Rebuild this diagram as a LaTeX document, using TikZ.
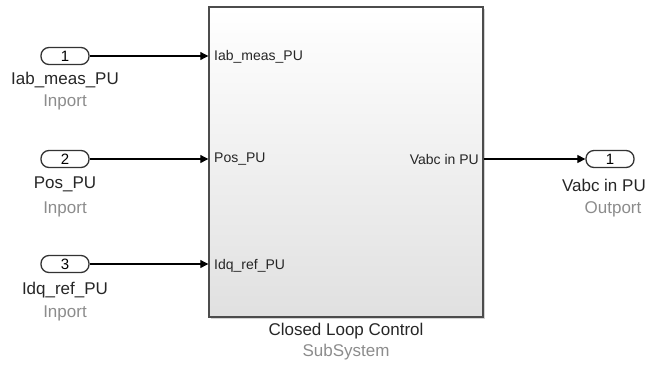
\documentclass[tikz,border=0pt]{standalone}
\usepackage{fontspec}
\setmainfont{Liberation Sans}
\usetikzlibrary{arrows.meta, positioning, shadows}

\begin{document}
\begin{tikzpicture}[x=1pt, y=-1pt,
    port/.style={draw=black!80, line width=1.3pt, rounded corners=8pt, minimum width=48pt,
                 minimum height=17pt, inner sep=0pt, font=\fontsize{15}{15}\selectfont},
    title/.style={font=\fontsize{17}{17}\selectfont, text=black!85, inner sep=0pt},
    kind/.style={font=\fontsize{17}{17}\selectfont, text=black!45, inner sep=0pt},
    pin/.style={font=\fontsize{14}{14}\selectfont, text=black!85, inner sep=0pt},
    wire/.style={line width=1.1pt, -{Triangle[length=8pt,width=8pt]}}]

  \useasboundingbox (0,0) rectangle (647,365);

  % subsystem block
  \node (sub) at (346,162) [draw=black!70, line width=1.4pt, minimum width=274pt, minimum height=310pt,
        top color=white, bottom color=black!12,
        drop shadow={shadow xshift=2pt, shadow yshift=-2pt, opacity=0.35}] {};
  \node[title] (subtitle) at (346,331) {Closed Loop Control};
  \node[kind] (subkind) at (346,352) {SubSystem};

  % pins inside the block
  \node[pin, anchor=west] (p1) at (214,57) {Iab\_meas\_PU};
  \node[pin, anchor=west] (p2) at (214,159) {Pos\_PU};
  \node[pin, anchor=west] (p3) at (214,266) {Idq\_ref\_PU};
  \node[pin, anchor=east] (q1) at (479,159) {Vabc in PU};

  % inports
  \node[port] (in1) at (65,56) {1};
  \node[title] (in1title) at (65,80) {Iab\_meas\_PU};
  \node[kind] (in1kind) at (65,102) {Inport};

  \node[port] (in2) at (65,159) {2};
  \node[title] (in2title) at (65,184) {Pos\_PU};
  \node[kind] (in2kind) at (65,209) {Inport};

  \node[port] (in3) at (65,264) {3};
  \node[title] (in3title) at (65,290) {Idq\_ref\_PU};
  \node[kind] (in3kind) at (65,313) {Inport};

  % outport
  \node[port] (out1) at (610,159) {1};
  \node[title, anchor=east] (out1title) at (646,185) {Vabc in PU};
  \node[kind] (out1kind) at (613,209) {Outport};

  % signals
  \draw[wire] (in1) -- (in1 -| sub.west);
  \draw[wire] (in2) -- (in2 -| sub.west);
  \draw[wire] (in3) -- (in3 -| sub.west);
  \draw[wire] (sub.east |- out1) -- (out1);
\end{tikzpicture}
\end{document}
